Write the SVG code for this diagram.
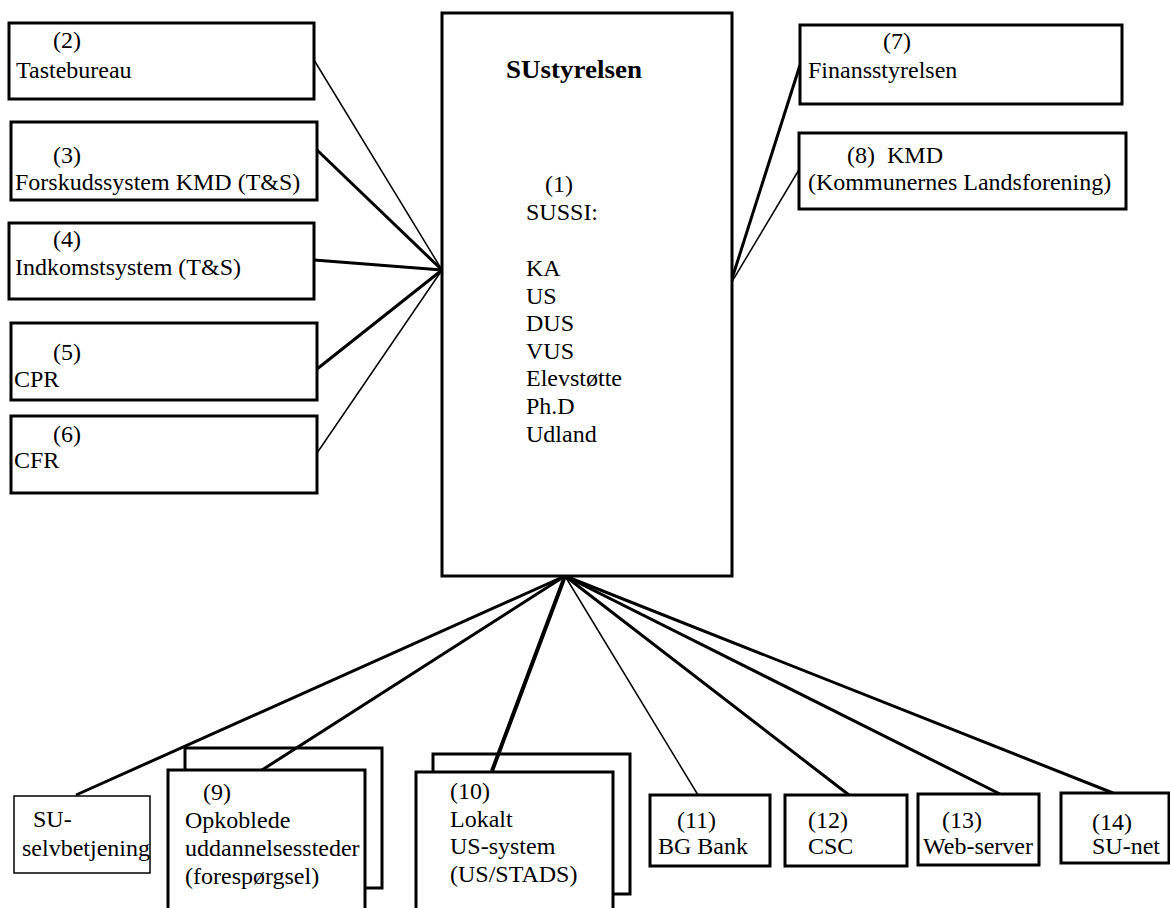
<svg xmlns="http://www.w3.org/2000/svg" width="1170" height="908" viewBox="0 0 1170 908">
<style>
text{font-family:"Liberation Serif","Times New Roman",Times,"DejaVu Serif",serif;font-size:24px;fill:#000}
.b{font-weight:bold;font-size:26px}
.box{fill:#fff;stroke:#000;stroke-width:3}
.thinbox{fill:#fff;stroke:#000;stroke-width:1.5}
.open{fill:none;stroke:#000;stroke-width:3}
.thick{stroke:#000;stroke-width:3;fill:none}
.thin{stroke:#000;stroke-width:1.5;fill:none}
</style>
<rect width="1170" height="908" fill="#fff"/>
<g id="connectors">
<line class="thin" x1="314" y1="60" x2="442" y2="270"/>
<line class="thick" x1="317" y1="150" x2="442" y2="270"/>
<line class="thick" x1="314" y1="260" x2="442" y2="270"/>
<line class="thick" x1="317" y1="369" x2="442" y2="270"/>
<line class="thin" x1="317" y1="453" x2="442" y2="270"/>
<line class="thick" x1="800" y1="65" x2="730" y2="285"/>
<line class="thin" x1="800" y1="168" x2="730" y2="285"/>
<line class="thick" x1="565" y1="576" x2="76" y2="795"/>
<line class="thick" x1="565" y1="576" x2="262" y2="770"/>
<line class="thick" x1="565" y1="576" x2="492" y2="771" style="stroke-width:4"/>
<line class="thin" x1="565" y1="576" x2="698" y2="795"/>
<line class="thick" x1="565" y1="576" x2="849" y2="795"/>
<line class="thick" x1="565" y1="576" x2="1000" y2="794"/>
<line class="thick" x1="565" y1="576" x2="1113" y2="793"/>
</g>
<g id="n1">
<rect class="box" x="442" y="13" width="290" height="563"/>
<text class="b" x="506" y="78" textLength="136" lengthAdjust="spacingAndGlyphs">SUstyrelsen</text>
<text x="545" y="192">(1)</text>
<text x="526" y="220">SUSSI:</text>
<text x="526" y="276">KA</text>
<text x="526" y="303.6">US</text>
<text x="526" y="331.2">DUS</text>
<text x="526" y="358.8">VUS</text>
<text x="526" y="386.4">Elevstøtte</text>
<text x="526" y="414">Ph.D</text>
<text x="526" y="441.6">Udland</text>
</g>
<g id="n2">
<rect class="box" x="9" y="23" width="305" height="76"/>
<text x="53" y="48">(2)</text>
<text x="16" y="78">Tastebureau</text>
</g>
<g id="n3">
<rect class="box" x="11" y="122" width="306" height="78"/>
<text x="53" y="163">(3)</text>
<text x="15" y="190">Forskudssystem KMD (T&amp;S)</text>
</g>
<g id="n4">
<rect class="box" x="9" y="223" width="305" height="76"/>
<text x="53" y="247">(4)</text>
<text x="15" y="275">Indkomstsystem (T&amp;S)</text>
</g>
<g id="n5">
<rect class="box" x="11" y="323" width="306" height="77"/>
<text x="53" y="360">(5)</text>
<text x="14" y="387">CPR</text>
</g>
<g id="n6">
<rect class="box" x="11" y="416" width="306" height="77"/>
<text x="53" y="442">(6)</text>
<text x="14" y="468">CFR</text>
</g>
<g id="n7">
<rect class="box" x="800" y="25" width="322" height="79"/>
<text x="883" y="49">(7)</text>
<text x="808" y="78">Finansstyrelsen</text>
</g>
<g id="n8">
<rect class="box" x="799" y="133" width="327" height="76"/>
<text x="847" y="163" xml:space="preserve">(8)  KMD</text>
<text x="808" y="190">(Kommunernes Landsforening)</text>
</g>
<g id="nSU">
<rect class="thinbox" x="14" y="796" width="136" height="77"/>
<text x="33" y="827">SU-</text>
<text x="22" y="856">selvbetjening</text>
</g>
<g id="n9">
<polyline class="open" points="185,770 185,748 382,748 382,888 365,888"/>
<path class="box" d="M168,912 V770 H365 V912"/>
<text x="203" y="800">(9)</text>
<text x="185" y="828">Opkoblede</text>
<text x="185" y="856">uddannelsessteder</text>
<text x="185" y="884">(forespørgsel)</text>
</g>
<g id="n10">
<polyline class="open" points="433,772 433,754 630,754 630,894 613,894"/>
<path class="box" d="M416,912 V772 H613 V912"/>
<text x="450" y="799">(10)</text>
<text x="450" y="827">Lokalt</text>
<text x="450" y="854">US-system</text>
<text x="450" y="882">(US/STADS)</text>
</g>
<g id="n11">
<rect class="box" x="650" y="795" width="120" height="71"/>
<text x="677" y="828">(11)</text>
<text x="658" y="854">BG Bank</text>
</g>
<g id="n12">
<rect class="box" x="785" y="795" width="122" height="71"/>
<text x="808" y="828">(12)</text>
<text x="808" y="854">CSC</text>
</g>
<g id="n13">
<rect class="box" x="918" y="794" width="121" height="71"/>
<text x="942" y="828">(13)</text>
<text x="923" y="854">Web-server</text>
</g>
<g id="n14">
<rect class="box" x="1061" y="793" width="108" height="70"/>
<text x="1092" y="830">(14)</text>
<text x="1092" y="854">SU-net</text>
</g>
</svg>
